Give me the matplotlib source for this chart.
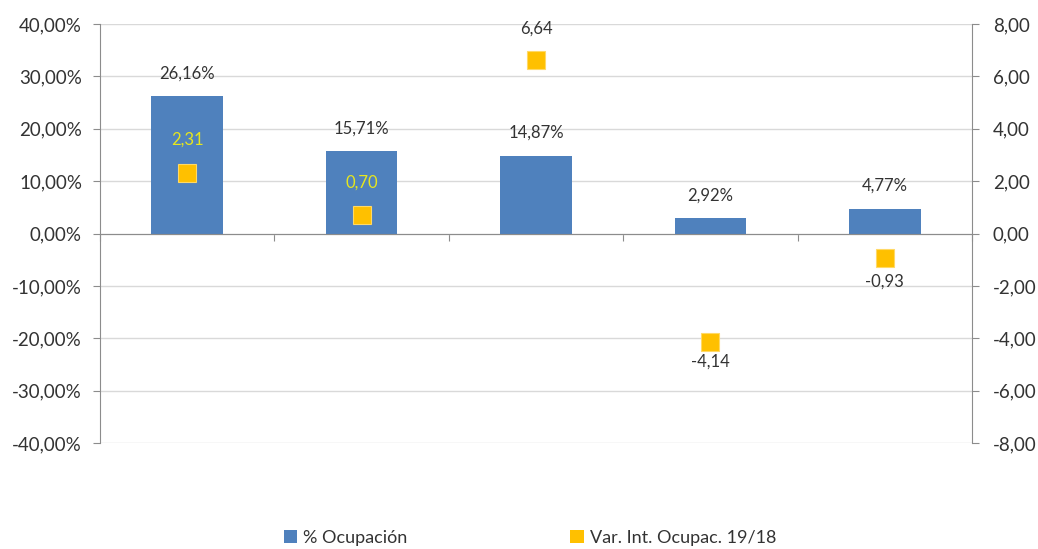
import numpy as np
import matplotlib
matplotlib.use('Agg')
from matplotlib import pyplot as plt
from matplotlib.patches import Patch
from matplotlib.ticker import FuncFormatter

plt.rcParams['font.family'] = ['Lato', 'DejaVu Sans']

ocupacion = [26.16, 15.71, 14.87, 2.92, 4.77]
variacion = [2.31, 0.70, 6.64, -4.14, -0.93]
var_label_colors = ['#e6e61e', '#e6e61e', '#333333', '#333333', '#333333']
var_label_offsets = [33, 33, 31, -20, -24]

bar_color = '#4f81bd'
sq_color = '#ffc000'
grid_color = '#d9d9d9'
axis_color = '#8c8c8c'
text_color = '#333333'

fig = plt.figure(figsize=(10.38, 5.49), dpi=100)
ax = fig.add_axes([100 / 1038, 106 / 549, 872 / 1038, 419 / 549])
ax2 = ax.twinx()

x = np.arange(len(ocupacion))
ax.bar(x, ocupacion, width=0.41, color=bar_color, zorder=2)
for xi, v in zip(x, ocupacion):
    ax.annotate(f'{v:.2f}%'.replace('.', ','), (xi, v), xytext=(0, 23),
                textcoords='offset pixels',
                ha='center', va='center', fontsize=12, color=text_color)

ax.set_xlim(-0.5, len(ocupacion) - 0.5)
ax.set_ylim(-40, 40)
ax.set_yticks(np.arange(-40, 41, 10))
ax.yaxis.set_major_formatter(FuncFormatter(lambda v, p: f'{v:.2f}%'.replace('.', ',')))
ax.yaxis.grid(True, color=grid_color, linewidth=1, zorder=0)
ax.set_axisbelow(True)
ax.set_xticks(np.arange(-0.5, len(ocupacion), 1))
ax.set_xticklabels([])
ax.tick_params(axis='x', length=5, color=axis_color, direction='out')
ax.tick_params(axis='y', length=5, pad=8, color=axis_color, labelsize=13.5, labelcolor=text_color)
ax.spines['bottom'].set_position(('data', 0))
ax.spines['bottom'].set_color(axis_color)
ax.spines['left'].set_color(axis_color)
ax.spines['top'].set_visible(False)
ax.spines['right'].set_visible(False)

ax2.plot(x, variacion, linestyle='none', marker='s', markersize=13,
         color=sq_color, markeredgecolor='#ffd966', markeredgewidth=0.8,
         zorder=3)
for xi, v, c, off in zip(x, variacion, var_label_colors, var_label_offsets):
    ax2.annotate(f'{v:.2f}'.replace('.', ','), (xi, v), xytext=(0, off),
                 textcoords='offset pixels', ha='center', va='center',
                 fontsize=12, color=c)
ax2.set_ylim(-8, 8)
ax2.set_yticks(np.arange(-8, 9, 2))
ax2.yaxis.set_major_formatter(FuncFormatter(lambda v, p: f'{v:.2f}'.replace('.', ',')))
ax2.tick_params(axis='y', length=5, pad=10, color=axis_color, labelsize=13.5, labelcolor=text_color)
ax2.spines['right'].set_color(axis_color)
for s in ['top', 'left', 'bottom']:
    ax2.spines[s].set_visible(False)

handles = [Patch(facecolor=bar_color), Patch(facecolor=sq_color)]
labels = ['% Ocupación', 'Var. Int. Ocupac. 19/18']
fig.legend(handles, labels, loc='center', bbox_to_anchor=(530 / 1038, 1 - 538 / 549),
           ncol=2, frameon=False, fontsize=13, handlelength=0.75, handleheight=0.75,
           handletextpad=0.35, columnspacing=9, labelcolor=text_color)

fig.savefig('out.png', dpi=100)
